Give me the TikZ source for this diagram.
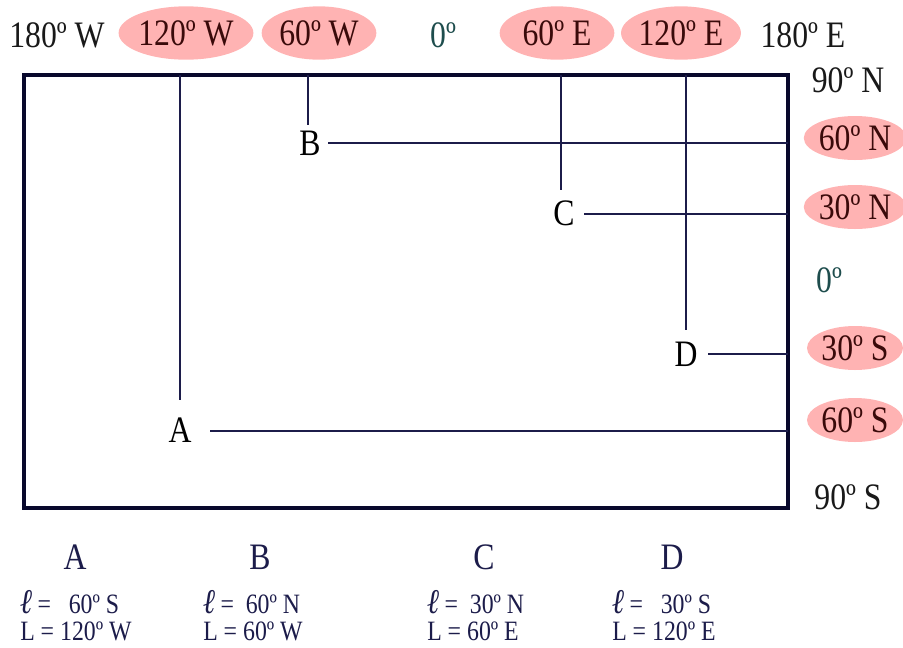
\documentclass[tikz,border=0pt]{standalone}
\usepackage{fontspec}
\setmainfont{Liberation Serif}[FakeStretch=0.85]
\usetikzlibrary{shapes.geometric}
\definecolor{pinkf}{HTML}{FFB3B3}
\definecolor{maroonT}{HTML}{3A0A0A}
\definecolor{navyL}{HTML}{1C1C4A}
\definecolor{frameC}{HTML}{08082C}
\definecolor{tealZ}{HTML}{1E4D4D}
\newcommand{\ellb}{{\fontsize{26}{26}\selectfont\bfseries\itshape ℓ}}
\begin{document}
\begin{tikzpicture}[x=0.75pt,y=-0.75pt,
 lab/.style={font=\fontsize{28}{30}\selectfont, text=black!90, inner sep=0},
 hl/.style={lab, shape=ellipse, fill=pinkf, text=maroonT, minimum width=86pt, minimum height=40pt},
 hr/.style={hl, minimum width=72pt, minimum height=33pt},
 ptlab/.style={font=\fontsize{28}{30}\selectfont, inner sep=0},
 gridline/.style={navyL, line width=1.5pt},
 sub/.style={font=\fontsize{28}{30}\selectfont, text=navyL, inner sep=0},
 info/.style={font=\fontsize{21}{23}\selectfont, text=navyL, anchor=west, inner sep=0}]
\useasboundingbox (0,0) rectangle (903,647);

% frame
\draw[frameC, line width=3pt] (24,75) rectangle (788,508);

% top labels
\node[lab] (w180) at (57,35) {180º W};
\node[hl] (w120) at (186,33) {120º W};
\node[hl] (w60) at (319,33) {60º W};
\node[lab, text=tealZ] (lon0) at (443,35) {0º};
\node[hl] (e60) at (557,33) {60º E};
\node[hl] (e120) at (681,33) {120º E};
\node[lab] (e180) at (803,35) {180º E};

% right labels
\node[lab] (n90) at (848,80) {90º N};
\node[hr] (n60) at (855,138) {60º N};
\node[hr] (n30) at (855,207) {30º N};
\node[lab, text=tealZ] (lat0) at (829,280) {0º};
\node[hr] (s30) at (855,348) {30º S};
\node[hr] (s60) at (855,420) {60º S};
\node[lab] (s90) at (848,497) {90º S};

% points
\node[ptlab, minimum width=45pt, minimum height=45pt] (A) at (180,430) {A};
\node[ptlab, minimum width=27pt, minimum height=27pt] (B) at (310,143) {B};
\node[ptlab, minimum width=30pt, minimum height=34pt] (C) at (564,213) {C};
\node[ptlab, minimum width=33pt, minimum height=36pt] (D) at (686,354) {D};

\coordinate (Atop) at (180,75);
\coordinate (Btop) at (308,75);
\coordinate (Ctop) at (561,75);
\coordinate (Dtop) at (686,75);
\coordinate (Aend) at (788,431);
\coordinate (Bend) at (788,143);
\coordinate (Cend) at (788,214);
\coordinate (Dend) at (788,354);

\draw[gridline] (Atop) -- (A.north);
\draw[gridline] (A.east |- Aend) -- (Aend);
\draw[gridline] (Btop) -- (Btop |- B.north);
\draw[gridline] (B.east |- Bend) -- (Bend);
\draw[gridline] (Ctop) -- (Ctop |- C.north);
\draw[gridline] (C.east |- Cend) -- (Cend);
\draw[gridline] (Dtop) -- (D.north);
\draw[gridline] (D.east) -- (Dend);

% bottom summary
\node[sub] (sA) at (75,557) {A};
\node[sub] (sB) at (260,557) {B};
\node[sub] (sC) at (484,557) {C};
\node[sub] (sD) at (672,557) {D};

\node[info] (lA) at (20,602) {\ellb\,=\ \ \ 60º S};
\node[info] (LA) at (20,631) {L = 120º W};
\node[info] (lB) at (203,602) {\ellb\,=\ \ 60º N};
\node[info] (LB) at (203,631) {L = 60º W};
\node[info] (lC) at (427,602) {\ellb\,=\ \ 30º N};
\node[info] (LC) at (427,631) {L = 60º E};
\node[info] (lD) at (612,602) {\ellb\,=\ \ \ 30º S};
\node[info] (LD) at (612,631) {L = 120º E};
\end{tikzpicture}
\end{document}
